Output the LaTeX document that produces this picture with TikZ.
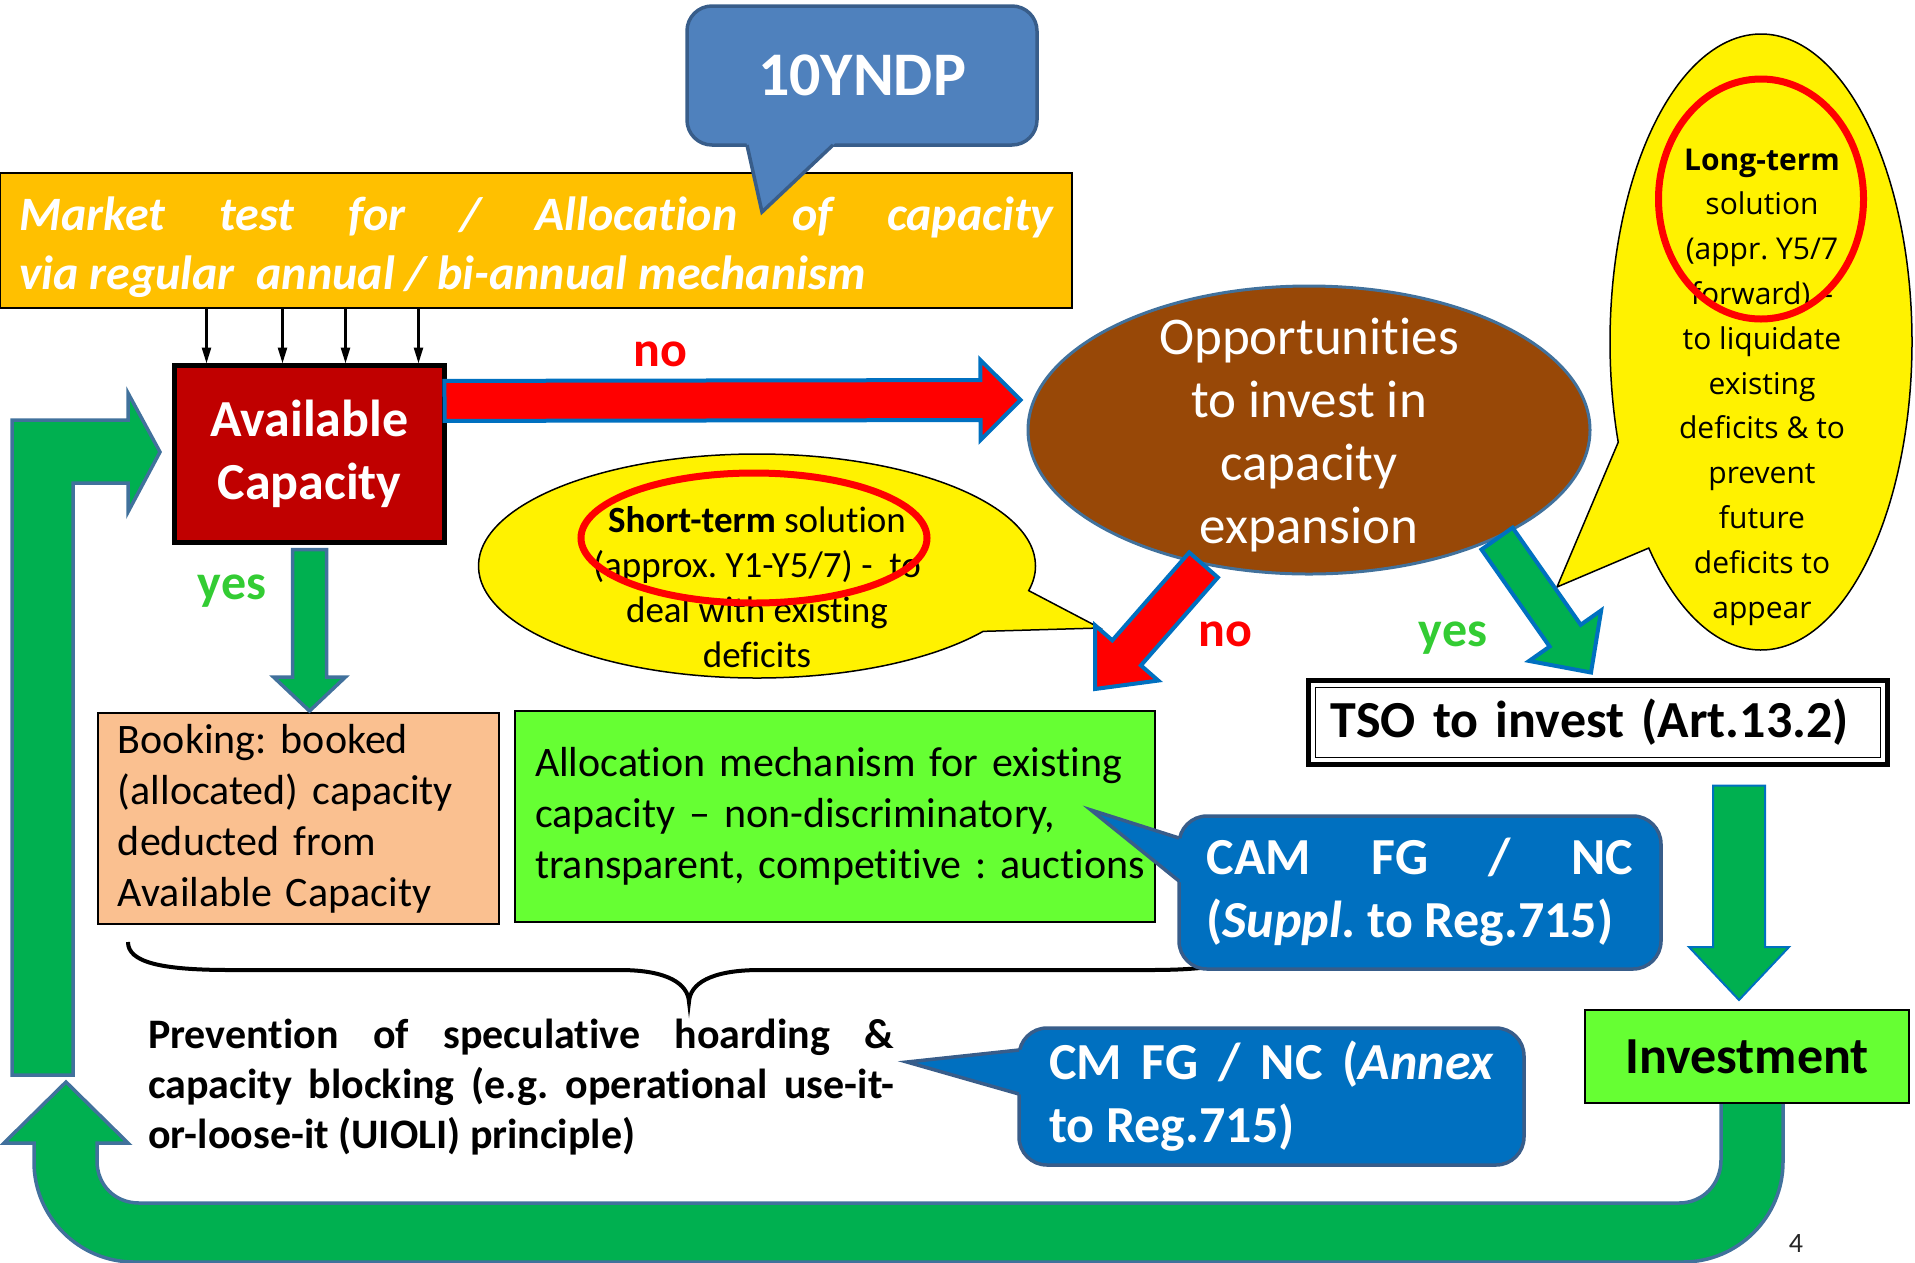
\documentclass[tikz,border=0pt]{standalone}
\usepackage{fontspec}
\setmainfont{Carlito}[Ligatures=NoCommon]
\newfontfamily\opensans{Open Sans}
\usetikzlibrary{calc,shapes.geometric,shapes.callouts,arrows.meta}

\definecolor{mktorange}{HTML}{FFC000}
\definecolor{availred}{HTML}{C00000}
\definecolor{oppbrown}{HTML}{984807}
\definecolor{bookpeach}{HTML}{FAC090}
\definecolor{boxgreen}{HTML}{66FF33}
\definecolor{arrgreen}{HTML}{00B050}
\definecolor{edgeblue}{HTML}{41719C}
\definecolor{brightblue}{HTML}{0070C0}
\definecolor{yndpblue}{HTML}{4F81BD}
\definecolor{darkedge}{HTML}{385D8A}
\definecolor{yesgreen}{HTML}{33CC33}

\tikzset{
  box/.style={draw=black, line width=1.5bp, inner sep=0pt, outer sep=0pt},
  bluecall/.style={rounded corners=28bp, fill=brightblue, draw=darkedge, line width=3.5bp,
    inner sep=0pt, outer sep=0pt, text=white,
    font=\fontsize{52bp}{63bp}\selectfont\bfseries},
  bubble/.style={ellipse callout, fill=yellow, draw=black, line width=1.5bp,
    inner sep=0pt, outer sep=0pt, callout pointer arc=23},
  ring/.style={ellipse, draw=red, line width=7bp, inner sep=0pt},
  redarr/.style={fill=red, draw=brightblue, line width=4bp},
  greenarr/.style={fill=arrgreen, draw=brightblue, line width=4bp},
  greenedge/.style={fill=arrgreen, draw=edgeblue, line width=3.5bp},
  feed/.style={draw=black, line width=2.5bp, -{Triangle[width=9bp,length=16bp]}},
  lbl/.style={inner sep=0pt, font=\fontsize{50bp}{50bp}\selectfont\bfseries},
  brace/.style={draw=black, line width=4bp},
}

% block arrow: style, from, to, half shaft, half head, head length
\newcommand\blockarrow[6]{%
  \coordinate (ba-h) at ($(#3)!#6!(#2)$);
  \draw[#1] ($(#2)!#4!90:(#3)$) -- ($(ba-h)!#4!90:(#3)$) -- ($(ba-h)!#5!90:(#3)$) -- (#3)
    -- ($(ba-h)!#5!-90:(#3)$) -- ($(ba-h)!#4!-90:(#3)$) -- ($(#2)!#4!-90:(#3)$) -- cycle;
}

\begin{document}
\frenchspacing
\begin{tikzpicture}[x=1bp, y=-1bp, line join=miter]
\useasboundingbox (0,0) rectangle (1915,1262);

% market test box
\node[box, fill=mktorange, minimum width=1072bp, minimum height=135bp] (market) at (536,240.5) {};
\node[anchor=base west, inner sep=0pt, text=white] (markettxt) at (19,230)
  {\parbox[t]{1034bp}{\fontsize{48bp}{59bp}\selectfont\bfseries\itshape
   \makebox[1034bp][s]{Market test for / Allocation of capacity}\\
   via regular\ \ annual / bi-annual mechanism}};

% 10YNDP callout
\node[bluecall, fill=yndpblue, rounded corners=25bp, minimum width=350bp, minimum height=139bp,
  font=\fontsize{62bp}{62bp}\selectfont\bfseries] (yndp) at (862,75.5) {10YNDP};
\coordinate (yndptip) at (762,212);
\coordinate (yb1) at ($(yndp.south west)+(60,0)$);
\coordinate (yb2) at ($(yndp.south west)+(146,0)$);
\fill[yndpblue] (yndptip) -- ($(yndptip)!1.12!(yb1)$) -- ($(yndptip)!1.12!(yb2)$) -- cycle;
\draw[darkedge, line width=3.5bp] (yb1) -- (yndptip) -- (yb2);

% available capacity
\node[box, fill=availred, line width=5bp, minimum width=270bp, minimum height=177bp,
  text=white, align=center, font=\fontsize{52bp}{63bp}\selectfont\bfseries] (avail) at (309.5,454)
  {Available\\Capacity};
\foreach \d in {32,108,171,244}
  \draw[feed] ($(avail.north west)+(\d,-57)$) -- ($(avail.north west)+(\d,-2)$);

% green return arrows
\draw[greenedge] (1721,1100) -- (1721,1160) .. controls (1721,1184) and (1703,1203) .. (1679,1203)
  -- (139,1203) .. controls (115,1203) and (97,1185) .. (97,1161) -- (97,1143) -- (128,1143)
  -- (66,1082) -- (4,1143) -- (34,1143) -- (34,1162) .. controls (34,1217) and (79,1262) .. (134,1262)
  -- (1683,1262) .. controls (1738,1262) and (1783,1217) .. (1783,1162) -- (1783,1100) -- cycle;
\draw[greenedge] (12,1075) -- (12,420) -- (128,420) -- (128,393) -- (160,452) -- (128,512)
  -- (128,483) -- (73,483) -- (73,1075) -- cycle;

% speech bubbles
\coordinate (shorttip) at (1100,628);
\node[bubble, minimum width=557bp, minimum height=224bp, callout absolute pointer={(shorttip)}] (shortbub) at (757,566) {};
\node[anchor=base, inner sep=0pt] (shorttxt) at (757,532)
  {\parbox[t]{520bp}{\centering\fontsize{37bp}{45bp}\selectfont
   \textbf{Short-term} solution\\(approx. Y1-Y5/7) -\ \ to\\deal with existing\\deficits}};
\node[ring, minimum width=346bp, minimum height=130bp] (shortring) at (754,538) {};

\coordinate (longtip) at (1557,587);
\node[bubble, minimum width=302bp, minimum height=616bp, callout absolute pointer={(longtip)}] (longbub) at (1761,342) {};
\node[anchor=base, inner sep=0pt] (longtxt) at (1762,170)
  {\parbox[t]{300bp}{\centering\opensans\fontsize{30bp}{44.8bp}\selectfont
   \textbf{Long-term}\\solution\\(appr. Y5/7\\forward) –\\to liquidate\\existing\\deficits \& to\\prevent\\future\\deficits to\\appear}};
\node[ring, minimum width=205bp, minimum height=240bp] (longring) at (1761,199) {};

% opportunities
\node[ellipse, fill=oppbrown, draw=edgeblue, line width=3bp, inner sep=0pt,
  minimum width=562bp, minimum height=288bp] (opp) at (1309,430) {};
\node[anchor=base, inner sep=0pt, text=white] (opptxt) at (1309,354)
  {\parbox[t]{420bp}{\centering\fontsize{53bp}{63bp}\selectfont
   Opportunities\\to invest in\\capacity\\expansion}};

% lower boxes
\node[box, fill=bookpeach, minimum width=401bp, minimum height=211bp, text width=361bp,
  inner xsep=20bp, align=left, font=\fontsize{42bp}{51bp}\selectfont] (booking) at (298.5,818.5)
  {Booking: booked\\(allocated) capacity\\deducted from\\Available Capacity};
\node[box, fill=boxgreen, minimum width=640bp, minimum height=211bp, text width=600bp,
  inner xsep=20bp, align=left, font=\fontsize{42bp}{51bp}\selectfont] (alloc) at (835,816.5)
  {\mbox{Allocation mechanism for existing}\\\mbox{capacity – non-discriminatory,}\\\mbox{transparent, competitive : auctions}};
\node[box, fill=white, line width=5bp, minimum width=579bp, minimum height=84bp, text width=535bp,
  inner xsep=22bp, align=left, font=\fontsize{52bp}{60bp}\selectfont\bfseries] (tso) at (1598,722.5)
  {TSO to invest (Art.13.2)};
\draw[line width=1.5bp] ($(tso.north west)+(7,7)$) rectangle ($(tso.south east)+(-7,-7)$);
\node[box, fill=boxgreen, line width=2bp, minimum width=324bp, minimum height=93bp,
  font=\fontsize{52bp}{60bp}\selectfont\bfseries] (invest) at (1747,1056.5) {Investment};

% block arrows
\coordinate (nos) at ($(avail.north east)!0.2!(avail.south east)$);
\coordinate (noe) at ($(opp.west)+(-6,-30)$);
\blockarrow{redarr}{nos}{noe}{20bp}{40bp}{40bp}
\coordinate (no2s) at (opp.232);
\coordinate (no2e) at ($(alloc.north east)+(-60,-22)$);
\blockarrow{redarr}{no2s}{no2e}{19bp}{42bp}{48bp}
\coordinate (yes2s) at (opp.330);
\coordinate (yes2e) at ($(tso.north)+(-7,-8)$);
\blockarrow{greenarr}{yes2s}{yes2e}{19bp}{44bp}{45bp}
\coordinate (yes1s) at ($(avail.south)+(0,7)$);
\coordinate (yes1e) at ($(avail.south |- booking.north)+(0,-2)$);
\blockarrow{greenedge}{yes1s}{yes1e}{17bp}{36bp}{34bp}
\coordinate (tie) at ($(invest.north)+(-8,-10)$);
\coordinate (tis) at ($(tie |- tso.south)+(0,21)$);
\blockarrow{greenarr, line width=2bp}{tis}{tie}{26bp}{50bp}{53bp}

% brace and prevention text
\draw[brace] (128,942) .. controls (128,962) and (160,970) .. (230,970) -- (620,970)
  .. controls (668,970) and (688,984) .. (689,1002) .. controls (690,984) and (710,970) .. (760,970)
  -- (1150,970) .. controls (1220,970) and (1250,962) .. (1252,942);
\node[anchor=base west, inner sep=0pt] (prevtxt) at (148,1048)
  {\parbox[t]{746bp}{\fontsize{42bp}{50bp}\selectfont\bfseries
   \makebox[746bp][s]{Prevention of speculative hoarding \&}\\
   \makebox[746bp][s]{capacity blocking (e.g. operational use-it-}\\
   or-loose-it (UIOLI) principle)}};

% network code callouts
\node[bluecall, minimum width=482bp, minimum height=153bp] (cam) at (1420,892.5)
  {\parbox{427bp}{\makebox[427bp][s]{CAM FG / NC}\\(\textit{Suppl.} to Reg.715)}};
\coordinate (camtip) at (1091,810);
\coordinate (cb1) at ($(cam.north west)+(0,22)$);
\coordinate (cb2) at ($(cam.north west)+(0,65)$);
\fill[brightblue] (camtip) -- ($(camtip)!1.06!(cb1)$) -- ($(camtip)!1.06!(cb2)$) -- cycle;
\draw[darkedge, line width=3.5bp] (cb1) -- (camtip) -- (cb2);

\node[bluecall, minimum width=505bp, minimum height=137bp] (cm) at (1271.5,1096.5)
  {\parbox{445bp}{\makebox[445bp][s]{CM FG / NC (\textit{Annex}}\\to Reg.715)}};
\coordinate (cmtip) at (907,1062);
\coordinate (mb1) at ($(cm.north west)+(0,22)$);
\coordinate (mb2) at ($(cm.north west)+(0,66)$);
\fill[brightblue] (cmtip) -- ($(cmtip)!1.06!(mb1)$) -- ($(cmtip)!1.06!(mb2)$) -- cycle;
\draw[darkedge, line width=3.5bp] (mb1) -- (cmtip) -- (mb2);

% labels
\node[lbl, text=red] (nolbl1) at (660,354) {no};
\node[lbl, text=red] (nolbl2) at (1225,634) {no};
\node[lbl, text=yesgreen] (yeslbl1) at (232,591) {yes};
\node[lbl, text=yesgreen] (yeslbl2) at (1453,638) {yes};
\node[inner sep=0pt, font=\fontsize{28bp}{28bp}\selectfont, text=black!85] (pagenum) at (1796,1243) {4};

\end{tikzpicture}
\end{document}
